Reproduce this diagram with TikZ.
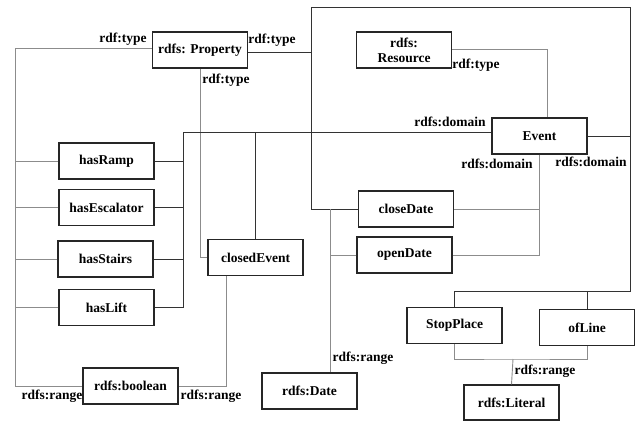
\documentclass[tikz,border=0pt]{standalone}
\usepackage{fontspec}
\setmainfont{Liberation Serif}
\begin{document}
\begin{tikzpicture}[x=1pt,y=-1pt,
  box/.style={draw=black!85, line width=1.1pt, fill=white, minimum width=95pt, minimum height=36pt, inner sep=0pt, align=center, font=\bfseries\fontsize{13.5}{15}\selectfont},
  lbl/.style={inner sep=0pt, font=\bfseries\fontsize{13.5}{15}\selectfont},
  dk/.style={draw=black!80, line width=0.8pt},
  gr/.style={draw=black!45, line width=0.9pt}]
\useasboundingbox (0,0) rectangle (636,421);
% nodes
\node[box] (prop) at (200,50) {rdfs: Property};
\node[box] (res) at (404,50) {rdfs:\\Resource};
\node[box] (event) at (539.5,136) {Event};
\node[box] (ramp) at (106.5,161) {hasRamp};
\node[box] (esc) at (106.5,207.5) {hasEscalator};
\node[box] (stairs) at (105.5,259) {hasStairs};
\node[box] (lift) at (106.5,307.5) {hasLift};
\node[box] (closedEvent) at (255.5,257.5) {closedEvent};
\node[box] (bool) at (130.5,386) {rdfs:boolean};
\node[box] (closeDate) at (406,209) {closeDate};
\node[box] (openDate) at (404.5,255) {openDate};
\node[box] (date) at (309.5,391) {rdfs:Date};
\node[box] (stop) at (454.5,325.5) {StopPlace};
\node[box] (ofline) at (587,327.5) {ofLine};
\node[box, minimum height=35pt] (literal) at (511.5,402.5) {rdfs:Literal};
% junction coordinates
\coordinate (pL) at (15,48);
\coordinate (pR) at (311,52);
\coordinate (tr) at (630,7);
\coordinate (br) at (630,291);
\coordinate (rR) at (547,49);
\coordinate (eL) at (183,132);
\coordinate (dT) at (330,209);
\coordinate (cB) at (226,276);
\coordinate (lj) at (513,359);
% connectors
\draw[gr] (prop.west |- pL) -- (pL) |- (bool.west);
\foreach \n in {ramp,esc,stairs,lift} \draw[gr] (\n.west) -- (\n.west -| pL);
\draw[dk] (prop.east |- pR) -- (pR) |- (tr) -- (br) -| (stop.north);
\draw[dk] (ofline.north) -- (ofline.north |- br);
\draw[dk] (pR) |- (closeDate.west);
\draw[gr] (prop.south) |- (closedEvent.west);
\draw[gr] (res.east |- rR) -- (rR) -- (rR |- event.north);
\draw[dk] (event.west |- eL) -- (eL) |- (lift.east);
\foreach \n in {ramp,esc,stairs} \draw[dk] (\n.east) -- (\n.east -| eL);
\draw[dk] (closedEvent.north) -- (closedEvent.north |- eL);
\draw[gr] (event.south) |- (openDate.east);
\draw[gr] (closeDate.east) -- (closeDate.east -| event.south);
\draw[dk] (event.east) -- (event.east -| br);
\draw[gr] (cB) |- (bool.east);
\draw[gr] (dT) -- (dT |- date.north);
\draw[gr] (openDate.west) -- (openDate.west -| dT);
\draw[gr] (stop.south) |- (lj) -| (ofline.south);
\draw[gr] (lj) -- (literal.north);
% labels
\node[lbl] (l1) at (123,39) {rdf:type};
\node[lbl] (l2) at (272,40) {rdf:type};
\node[lbl] (l3) at (226,80) {rdf:type};
\node[lbl] (l4) at (476,65) {rdf:type};
\node[lbl] (l5) at (450,122) {rdfs:domain};
\node[lbl] (l6) at (497,164) {rdfs:domain};
\node[lbl] (l7) at (591,162) {rdfs:domain};
\node[lbl] (l8) at (52,396) {rdfs:range};
\node[lbl] (l9) at (211,396) {rdfs:range};
\node[lbl] (l10) at (363,358) {rdfs:range};
\node[lbl] (l11) at (545,371) {rdfs:range};
\end{tikzpicture}
\end{document}
